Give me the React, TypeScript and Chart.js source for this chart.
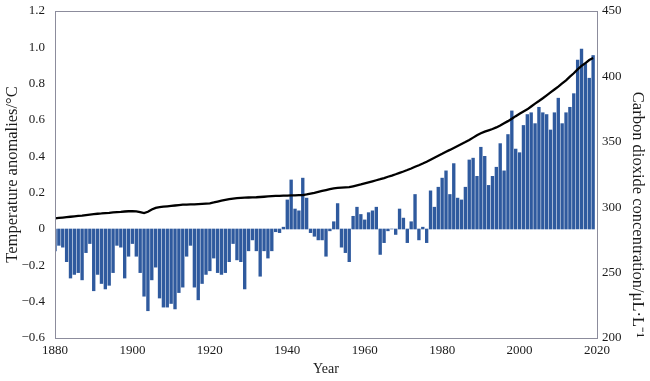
import React, { useEffect, useRef } from "react";
import { Chart, registerables } from "chart.js";

Chart.register(...registerables);

const START_YEAR = 1880;

// Temperature anomalies (°C), 1880–2019
const tempAnomalies: number[] = [
  -0.12, -0.09, -0.10, -0.18, -0.27, -0.25, -0.24, -0.28, -0.13, -0.08,
  -0.34, -0.25, -0.30, -0.33, -0.31, -0.24, -0.09, -0.10, -0.27, -0.15,
  -0.08, -0.15, -0.24, -0.37, -0.45, -0.28, -0.21, -0.38, -0.43, -0.43,
  -0.41, -0.44, -0.35, -0.32, -0.15, -0.09, -0.32, -0.39, -0.30, -0.25,
  -0.23, -0.16, -0.24, -0.25, -0.24, -0.18, -0.08, -0.17, -0.18, -0.33,
  -0.12, -0.06, -0.12, -0.26, -0.12, -0.16, -0.12, -0.015, -0.02, 0.01,
  0.16, 0.27, 0.11, 0.10, 0.28, 0.17, -0.02, -0.04, -0.06, -0.06,
  -0.15, -0.01, 0.04, 0.14, -0.10, -0.13, -0.18, 0.07, 0.12, 0.08,
  0.05, 0.09, 0.10, 0.12, -0.14, -0.075, -0.01, 0.0, -0.03, 0.11,
  0.06, -0.075, 0.04, 0.19, -0.06, 0.01, -0.075, 0.21, 0.12, 0.23,
  0.28, 0.32, 0.19, 0.36, 0.17, 0.16, 0.23, 0.38, 0.39, 0.29,
  0.45, 0.40, 0.24, 0.29, 0.34, 0.47, 0.32, 0.52, 0.65, 0.44,
  0.42, 0.57, 0.63, 0.64, 0.58, 0.67, 0.64, 0.63, 0.545, 0.64,
  0.72, 0.58, 0.64, 0.67, 0.745, 0.93, 0.99, 0.91, 0.83, 0.955,
];

// CO2 concentration (μL/L), 1880–2019
const co2Values: number[] = [
  291.5, 291.8, 292.1, 292.4, 292.7, 293.0, 293.3, 293.6, 294.0, 294.4,
  294.7, 295.0, 295.2, 295.5, 295.7, 296.0, 296.2, 296.4, 296.7, 296.9,
  297.0, 296.8, 296.2, 295.5, 296.5, 298.2, 299.5, 300.0, 300.4, 300.7,
  301.0, 301.3, 301.6, 301.9, 302.0, 302.1, 302.2, 302.4, 302.6, 302.8,
  303.0, 303.6, 304.3, 305.0, 305.6, 306.2, 306.6, 306.9, 307.1, 307.3,
  307.4, 307.5, 307.6, 307.8, 308.0, 308.2, 308.4, 308.6, 308.7, 308.8,
  308.9, 309.0, 309.1, 309.2, 309.3, 309.8, 310.4, 311.0, 311.7, 312.4,
  313.1, 313.8, 314.4, 314.7, 314.9, 315.1, 315.3, 316.0, 316.7, 317.4,
  318.2, 319.0, 319.8, 320.6, 321.4, 322.3, 323.3, 324.2, 325.2, 326.3,
  327.3, 328.4, 329.6, 330.9, 332.1, 333.4, 334.8, 336.3, 337.8, 339.3,
  340.8, 342.4, 343.8, 345.3, 346.8, 348.3, 349.8, 351.4, 353.2, 355.0,
  356.5, 357.8, 358.8, 359.8, 361.0, 362.5, 364.2, 365.8, 367.6, 369.6,
  371.5, 373.2, 374.8, 377.0, 379.2, 381.2, 383.3, 385.5, 387.8, 390.0,
  392.2, 394.6, 397.0, 399.8, 402.4, 405.4, 408.0, 410.2, 412.5, 414.0,
];

const xTicks = [1880, 1900, 1920, 1940, 1960, 1980, 2000, 2020];
const leftTicks = [-0.6, -0.4, -0.2, 0, 0.2, 0.4, 0.6, 0.8, 1.0, 1.2];
const rightTicks = [200, 250, 300, 350, 400, 450];

const FONT = "'Liberation Serif', 'Times New Roman', serif";
const TEXT = "#1a1a1a";

const boxPlugin = {
  id: "plotBox",
  afterDatasetsDraw(chart: any) {
    const { ctx, chartArea } = chart;
    ctx.save();
    ctx.strokeStyle = "#8c8c9c";
    ctx.lineWidth = 1;
    ctx.strokeRect(
      Math.round(chartArea.left) + 0.5,
      Math.round(chartArea.top) + 0.5,
      Math.round(chartArea.right - chartArea.left),
      Math.round(chartArea.bottom - chartArea.top)
    );
    ctx.restore();
  },
};

export default function App() {
  const ref = useRef<HTMLCanvasElement | null>(null);

  useEffect(() => {
    if (!ref.current) return;
    const barData = tempAnomalies.map((v, i) => ({ x: START_YEAR + i, y: v }));
    const lineData = co2Values.map((v, i) => ({ x: START_YEAR + i, y: v }));

    const fmtLeft = (v: number) => {
      if (Math.abs(v) < 1e-9) return "0";
      return (v < 0 ? "\u2212" : "") + Math.abs(v).toFixed(1);
    };

    const chart = new Chart(ref.current, {
      type: "bar",
      data: {
        datasets: [
          {
            type: "line",
            label: "CO2",
            data: lineData as any,
            yAxisID: "y2",
            borderColor: "#000000",
            borderWidth: 2.3,
            pointRadius: 0,
            tension: 0,
            order: 0,
          } as any,
          {
            type: "bar",
            label: "Temperature anomalies",
            data: barData as any,
            yAxisID: "y",
            backgroundColor: "#2f5a9e",
            borderWidth: 0,
            barThickness: 2.7,
            order: 1,
          } as any,
        ],
      },
      options: {
        responsive: false,
        animation: false,
        layout: { padding: { top: 11, left: 0, right: 0, bottom: 0 } },
        plugins: {
          legend: { display: false },
          tooltip: { enabled: false },
        },
        scales: {
          x: {
            type: "linear",
            min: 1880,
            max: 2020,
            offset: false,
            grid: { display: false, drawTicks: false },
            border: { display: false },
            afterBuildTicks: (axis: any) => {
              axis.ticks = xTicks.map((v) => ({ value: v }));
            },
            afterFit: (axis: any) => {
              axis.height = 43;
            },
            ticks: {
              padding: 5,
              color: TEXT,
              font: { family: FONT, size: 13 },
              maxRotation: 0,
              autoSkip: false,
              callback: (v: any) => String(v),
            },
            title: {
              display: true,
              text: "Year",
              color: TEXT,
              font: { family: FONT, size: 14 },
              padding: { top: 0, bottom: 3 },
            },
          },
          y: {
            type: "linear",
            position: "left",
            min: -0.6,
            max: 1.2,
            grid: { display: false, drawTicks: false },
            border: { display: false },
            afterBuildTicks: (axis: any) => {
              axis.ticks = leftTicks.map((v) => ({ value: v }));
            },
            afterFit: (axis: any) => {
              axis.width = 55;
              axis.paddingTop = 0;
              axis.paddingBottom = 0;
            },
            ticks: {
              padding: 10,
              color: TEXT,
              font: { family: FONT, size: 13 },
              callback: (v: any) => fmtLeft(Number(v)),
            },
            title: {
              display: true,
              text: "Temperature anomalies/\u00B0C",
              color: TEXT,
              font: { family: FONT, size: 16.5 },
              padding: { top: 3, bottom: 0 },
            },
          },
          y2: {
            type: "linear",
            position: "right",
            min: 200,
            max: 450,
            grid: { display: false, drawTicks: false },
            border: { display: false },
            afterBuildTicks: (axis: any) => {
              axis.ticks = rightTicks.map((v) => ({ value: v }));
            },
            afterFit: (axis: any) => {
              axis.width = 53;
              axis.paddingTop = 0;
              axis.paddingBottom = 0;
            },
            ticks: {
              padding: 5,
              color: TEXT,
              font: { family: FONT, size: 13 },
              callback: (v: any) => String(v),
            },
            title: {
              display: true,
              text: "Carbon dioxide concentration/\u03BCL\u00B7L\u207B\u00B9",
              color: TEXT,
              font: { family: FONT, size: 16.5 },
              align: "start",
              padding: { top: 3, bottom: 0 },
            },
          },
        },
      } as any,
      plugins: [boxPlugin],
    });

    return () => chart.destroy();
  }, []);

  return (
    <div
      style={{
        position: "absolute",
        left: 0,
        top: 0,
        width: 650,
        height: 381,
        background: "#ffffff",
      }}
    >
      <canvas ref={ref} width={650} height={381} style={{ display: "block" }} />
    </div>
  );
}
